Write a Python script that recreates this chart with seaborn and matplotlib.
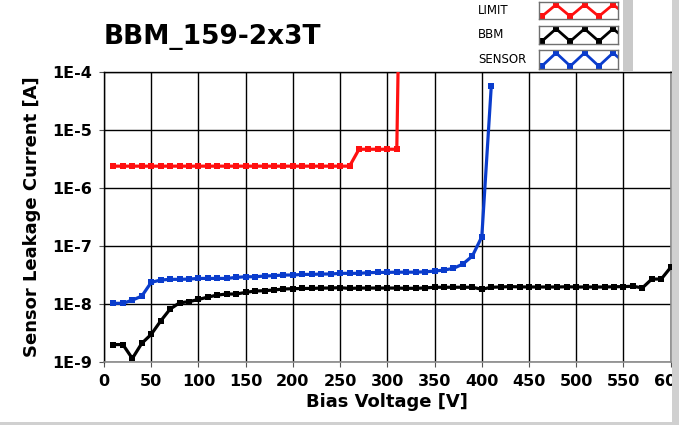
import matplotlib
matplotlib.use("Agg")
import matplotlib.pyplot as plt
from matplotlib.patches import Rectangle
import pandas as pd
import seaborn as sns

# ---------------- data ----------------
limit_v = [10, 20, 30, 40, 50, 60, 70, 80, 90, 100, 110, 120, 130, 140, 150, 160,
           170, 180, 190, 200, 210, 220, 230, 240, 250, 260, 270, 280, 290, 300, 310, 312]
limit_i = [2.4e-6, 2.4e-6, 2.4e-6, 2.4e-6, 2.4e-6, 2.4e-6, 2.4e-6, 2.4e-6, 2.4e-6, 2.4e-6,
           2.4e-6, 2.4e-6, 2.4e-6, 2.4e-6, 2.4e-6, 2.4e-6, 2.4e-6, 2.4e-6, 2.4e-6, 2.4e-6,
           2.4e-6, 2.4e-6, 2.4e-6, 2.4e-6, 2.4e-6, 2.4e-6, 4.7e-6, 4.7e-6, 4.7e-6, 4.7e-6,
           4.7e-6, 5e-4]

bbm_v = [10, 20, 30, 40, 50, 60, 70, 80, 90, 100, 110, 120, 130, 140, 150, 160, 170, 180,
         190, 200, 210, 220, 230, 240, 250, 260, 270, 280, 290, 300, 310, 320, 330, 340,
         350, 360, 370, 380, 390, 400, 410, 420, 430, 440, 450, 460, 470, 480, 490, 500,
         510, 520, 530, 540, 550, 560, 570, 580, 590, 600]
bbm_i = [2.0e-9, 2.0e-9, 1.15e-9, 2.1e-9, 3.0e-9, 5.1e-9, 8.2e-9, 1.05e-8, 1.1e-8, 1.2e-8,
         1.32e-8, 1.43e-8, 1.49e-8, 1.49e-8, 1.59e-8, 1.68e-8, 1.70e-8, 1.75e-8, 1.82e-8, 1.84e-8,
         1.86e-8, 1.86e-8, 1.89e-8, 1.89e-8, 1.92e-8, 1.86e-8, 1.89e-8, 1.89e-8, 1.89e-8, 1.89e-8,
         1.89e-8, 1.87e-8, 1.87e-8, 1.90e-8, 1.95e-8, 1.95e-8, 1.95e-8, 1.95e-8, 1.95e-8, 1.80e-8,
         1.95e-8, 1.97e-8, 2.0e-8, 1.98e-8, 1.97e-8, 1.97e-8, 1.97e-8, 1.97e-8, 1.99e-8, 1.97e-8,
         1.97e-8, 1.97e-8, 1.97e-8, 1.99e-8, 2.0e-8, 2.03e-8, 1.90e-8, 2.70e-8, 2.70e-8, 4.3e-8]

sensor_v = [10, 20, 30, 40, 50, 60, 70, 80, 90, 100, 110, 120, 130, 140, 150, 160, 170, 180,
            190, 200, 210, 220, 230, 240, 250, 260, 270, 280, 290, 300, 310, 320, 330, 340,
            350, 360, 370, 380, 390, 400, 410]
sensor_i = [1.03e-8, 1.03e-8, 1.17e-8, 1.37e-8, 2.37e-8, 2.6e-8, 2.67e-8, 2.67e-8, 2.7e-8, 2.77e-8,
            2.77e-8, 2.77e-8, 2.77e-8, 2.89e-8, 2.96e-8, 2.96e-8, 3.05e-8, 3.09e-8, 3.17e-8, 3.17e-8,
            3.25e-8, 3.25e-8, 3.3e-8, 3.3e-8, 3.39e-8, 3.39e-8, 3.39e-8, 3.48e-8, 3.52e-8, 3.52e-8,
            3.55e-8, 3.55e-8, 3.55e-8, 3.6e-8, 3.71e-8, 3.86e-8, 4.13e-8, 4.91e-8, 6.74e-8, 1.45e-7,
            5.7e-5]

series_names = ["LIMIT", "BBM", "SENSOR"]
series_colors = ["#ff1010", "#000000", "#0a3ccc"]
x_ticks = [0, 50, 100, 150, 200, 250, 300, 350, 400, 450, 500, 550, 600]
y_ticks = [1e-9, 1e-8, 1e-7, 1e-6, 1e-5, 1e-4]
y_tick_labels = ["1E-9", "1E-8", "1E-7", "1E-6", "1E-5", "1E-4"]
title_text = "BBM_159-2x3T"
x_label = "Bias Voltage [V]"
y_label = "Sensor Leakage Current [A]"
legend_zig_x = [0, 1, 2, 3, 4, 5, 5.6]
legend_zig_y = [0, 1, 0, 1, 0, 1, 0.45]

# ---------------- figure ----------------
sns.set_theme(style="white")
plt.rcParams["font.family"] = ["DejaVu Sans"]
plt.rcParams["text.color"] = "black"
plt.rcParams["axes.labelcolor"] = "black"
plt.rcParams["xtick.color"] = "black"
plt.rcParams["ytick.color"] = "black"

W, H = 679, 425
fig = plt.figure(figsize=(W / 100, H / 100), dpi=100)
fig.patch.set_facecolor("white")

def fx(px):
    return px / W

def fy(py):
    return 1 - py / H

ax = fig.add_axes([fx(104), fy(362), fx(670.7) - fx(104), fy(72.3) - fy(362)])

frames = []
for name, v, i in zip(series_names, [limit_v, bbm_v, sensor_v], [limit_i, bbm_i, sensor_i]):
    frames.append(pd.DataFrame({"V": v, "I": i, "series": name}))
df = pd.concat(frames, ignore_index=True)

sns.lineplot(data=df, x="V", y="I", hue="series", hue_order=series_names,
             palette=dict(zip(series_names, series_colors)), estimator=None, sort=False,
             marker="s", markersize=4.6, markeredgewidth=0, linewidth=2.3,
             legend=False, ax=ax, zorder=3)

ax.set_yscale("log")
ax.set_xlim(0, 600)
ax.set_ylim(1e-9, 1e-4)
ax.set_xticks(x_ticks)
ax.set_xticklabels([str(t) for t in x_ticks])
ax.set_yticks(y_ticks)
ax.set_yticklabels(y_tick_labels)
ax.minorticks_off()
ax.grid(True, which="major", color="black", linewidth=1.0)
ax.set_axisbelow(True)
ax.tick_params(axis="both", which="major", direction="out", length=3.5, width=0.8,
               color="#555555", labelcolor="black", labelsize=11.5, pad=5,
               bottom=True, left=True)
for lab in ax.get_xticklabels() + ax.get_yticklabels():
    lab.set_fontweight("bold")
ax.set_xlabel(x_label, fontsize=13, fontweight="bold", labelpad=3, color="black")
ax.set_ylabel(y_label, fontsize=13, fontweight="bold", labelpad=8, color="black")
for side in ["left", "top"]:
    ax.spines[side].set_color("black")
    ax.spines[side].set_linewidth(1.0)
for side in ["bottom", "right"]:
    ax.spines[side].set_color("#8a8a8a")
    ax.spines[side].set_linewidth(1.2)

fig.text(fx(104), fy(43.5), title_text, fontsize=19, fontweight="bold",
         ha="left", va="baseline", color="black")

# legend panel
rows = [(2, 19), (26, 44), (50, 69)]
for (top, bot), name, color in zip(rows, series_names, series_colors):
    fig.text(fx(478), fy((top + bot) / 2), name, fontsize=8.5, ha="left", va="center",
             color="black")
    lax = fig.add_axes([fx(539), fy(bot), fx(618) - fx(539), fy(top) - fy(bot)])
    lax.plot(legend_zig_x, legend_zig_y, color=color, linewidth=2.0, marker="s",
             markersize=4.2, markeredgewidth=0, clip_on=True)
    lax.set_xlim(-0.2, 5.35)
    lax.set_ylim(-0.22, 1.22)
    lax.set_xticks([])
    lax.set_yticks([])
    lax.set_facecolor("white")
    for s in lax.spines.values():
        s.set_color("#707070")
        s.set_linewidth(1.0)

# window chrome
fig.patches.append(Rectangle((fx(623), fy(72)), fx(10), 72 / H, transform=fig.transFigure,
                             facecolor="#c9c9c9", edgecolor="none", zorder=0))
fig.patches.append(Rectangle((fx(671.5), 0), fx(7.5), 1, transform=fig.transFigure,
                             facecolor="#d0d0d0", edgecolor="none", zorder=5))
fig.patches.append(Rectangle((0, 0), 1, 3.5 / H, transform=fig.transFigure,
                             facecolor="#d0d0d0", edgecolor="none", zorder=5))

fig.savefig("out.png", dpi=100)
